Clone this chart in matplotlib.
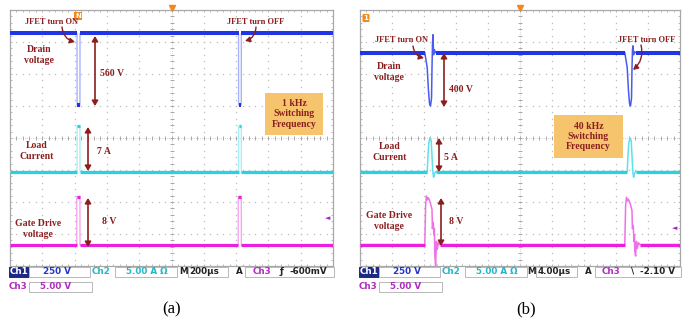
import numpy as np
import matplotlib
matplotlib.use('Agg')
import matplotlib.pyplot as plt
from matplotlib.patches import Rectangle, FancyArrowPatch

W, H = 694, 325

# ---------------- data ----------------
# Panel (a): 1 kHz switching, 200 us/div
a_time_per_div = 200.0
a_scales = {'ch1': 250.0, 'ch2': 5.0, 'ch3': 5.0}
a_offsets = {'ch1': 1.03, 'ch2': -1.05, 'ch3': -3.35}   # trace ground position (div)
a_drain_t = [0, 415, 415.5, 433, 433.5, 1415, 1415.5, 1432, 1432.5, 2000]
a_drain_v = [560, 560, 0, 0, 560, 560, 0, 0, 560, 560]
a_load_t = [0, 415, 415.5, 433, 433.5, 1415, 1415.5, 1432, 1432.5, 2000]
a_load_i = [0, 0, 7.1, 7.1, 0, 0, 7.1, 7.1, 0, 0]
a_gate_t = [0, 413, 413.5, 433, 433.5, 1413, 1413.5, 1432, 1432.5, 2000]
a_gate_v = [0, 0, 7.6, 7.6, 0, 0, 7.6, 7.6, 0, 0]

# Panel (b): 40 kHz switching, 4 us/div
b_time_per_div = 4.0
b_scales = {'ch1': 250.0, 'ch2': 5.0, 'ch3': 5.0}
b_offsets = {'ch1': 1.0, 'ch2': -1.05, 'ch3': -3.33}
b_drain_t = [0, 8.1, 8.4, 8.56, 8.69, 8.81, 8.94, 9.0, 9.06, 9.12, 9.2, 9.31, 9.44,
             33.1, 33.4, 33.56, 33.69, 33.81, 33.94, 34.0, 34.06, 34.12, 34.2, 34.31, 34.44, 40]
b_drain_v = [417, 417, 300, 120, 20, 0, 60, 300, 480, 557, 400, 440, 417,
             417, 300, 120, 20, 0, 60, 300, 440, 470, 400, 425, 417, 417]
b_load_t = [0, 8.4, 8.5, 8.6, 8.75, 8.9, 9.0, 9.1, 9.2, 9.3, 9.45,
            33.4, 33.5, 33.6, 33.75, 33.9, 34.0, 34.1, 34.2, 34.3, 34.45, 40]
b_load_i = [0, 0, 2.5, 4.5, 5.3, 4.8, 2.5, 0, -0.9, -0.3, 0,
            0, 2.5, 4.5, 5.3, 4.8, 2.5, 0, -0.9, -0.3, 0, 0]
b_gate_t = [0, 8.1, 8.2, 8.3, 8.45, 8.55, 8.8, 9.0, 9.05, 9.15, 9.25, 9.3, 9.35, 9.45, 9.55, 9.65, 9.8, 9.95,
            33.1, 33.2, 33.3, 33.45, 33.55, 33.8, 34.0, 34.05, 34.15, 34.25, 34.3, 34.35, 34.45, 34.55, 34.65, 34.8, 34.95, 40]
b_gate_v = [0, 0, 6.0, 7.6, 7.0, 7.3, 6.5, 5.5, 2.5, 3.5, 1.5, 2.5, -1.5, -3.3, 0.5, -0.8, 0.3, 0,
            0, 6.0, 7.4, 6.8, 7.1, 6.3, 5.3, 2.5, 3.0, 0.5, 1.5, -1.0, -1.8, 0.5, -0.6, 0.3, 0, 0]

# status bar texts
a_status = {'ch1': '250 V', 'ch2': '5.00 A Ω', 'M': '200µs', 'trig': '-600mV', 'slope': 'ƒ', 'ch3': '5.00 V'}
b_status = {'ch1': '250 V', 'ch2': '5.00 A Ω', 'M': '4.00µs', 'trig': '-2.10 V', 'slope': '\\', 'ch3': '5.00 V'}

# ---------------- styling ----------------
C_BLUE, C_BLUE_L, C_BLUE_M = '#1f35e6', '#a9b2ff', '#4a5cf0'
C_CYAN, C_CYAN_L, C_CYAN_M = '#27d3e0', '#a8f0f5', '#5fe0ea'
C_MAG, C_MAG_L, C_MAG_M = '#ec1fdf', '#f6a6f0', '#f070e8'
C_RED = '#8b1f1f'
C_ORANGE = '#f6c46c'
SERIF = 'Liberation Serif'
GRID = '#bdbdbd'

fig = plt.figure(figsize=(W / 100, H / 100), dpi=100)
fig.patch.set_facecolor('white')


def fx(px):
    return px / W


def fy(py):
    return 1 - py / H


def draw_trace(ax, t, v, tpd, scale, off, col, col_l, lw, lw_l):
    x = np.asarray(t, float) / tpd
    y = np.asarray(v, float) / scale + off
    ax.plot(x, y, color=col_l, lw=lw_l, zorder=3, solid_capstyle='butt')
    for i in range(len(x) - 1):
        if v[i] == v[i + 1]:
            ax.plot(x[i:i + 2], y[i:i + 2], color=col, lw=lw, zorder=4, solid_capstyle='butt')


def scope_axes(left_px, width_px, tpd, scales, offsets, dr, ld, gt, tcols, transition_lw):
    ax = fig.add_axes([fx(left_px), fy(266), width_px / W, 256 / H])
    ax.set_xlim(0, 10)
    ax.set_ylim(-4, 4)
    ax.set_xticks([])
    ax.set_yticks([])
    for s in ax.spines.values():
        s.set_color('#a8a8a8')
        s.set_linewidth(0.9)
    # dotted grid
    fine_x = np.arange(0, 10.01, 0.2)
    fine_y = np.arange(-4, 4.01, 0.2)
    for gx in range(1, 10):
        if gx == 5:
            continue
        ax.plot(np.full_like(fine_y, gx), fine_y, ls='none', marker='s', ms=0.9, mew=0, color=GRID, zorder=1)
    for gy in range(-3, 4):
        if gy == 0:
            continue
        ax.plot(fine_x, np.full_like(fine_x, gy), ls='none', marker='s', ms=0.9, mew=0, color=GRID, zorder=1)
    # centre crosshair
    ax.plot([0, 10], [0, 0], color='#c8c8c8', lw=0.6, ls=(0, (1, 1.5)), zorder=1)
    ax.plot([5, 5], [-4, 4], color='#c8c8c8', lw=0.6, ls=(0, (1, 1.5)), zorder=1)
    ax.plot(fine_x, np.zeros_like(fine_x), ls='none', marker='|', ms=3.2, mew=0.7, color='#a8a8a8', zorder=1)
    ax.plot(np.full_like(fine_y, 5), fine_y, ls='none', marker='_', ms=3.2, mew=0.7, color='#a8a8a8', zorder=1)
    # edge ticks
    ax.plot(fine_x, np.full_like(fine_x, 4), ls='none', marker='|', ms=2.5, mew=0.6, color='#b0b0b0', zorder=1)
    ax.plot(fine_x, np.full_like(fine_x, -4), ls='none', marker='|', ms=2.5, mew=0.6, color='#b0b0b0', zorder=1)
    ax.plot(np.zeros_like(fine_y), fine_y, ls='none', marker='_', ms=2.5, mew=0.6, color='#b0b0b0', zorder=1)
    ax.plot(np.full_like(fine_y, 10), fine_y, ls='none', marker='_', ms=2.5, mew=0.6, color='#b0b0b0', zorder=1)
    draw_trace(ax, dr[0], dr[1], tpd, scales['ch1'], offsets['ch1'], C_BLUE, tcols[0], 2.9, transition_lw)
    draw_trace(ax, ld[0], ld[1], tpd, scales['ch2'], offsets['ch2'], C_CYAN, tcols[1], 2.3, transition_lw)
    draw_trace(ax, gt[0], gt[1], tpd, scales['ch3'], offsets['ch3'], C_MAG, tcols[2], 2.3, transition_lw)
    # trigger marker top centre
    ax.plot([5], [4.05], marker='v', ms=5, color='#f08a1c', clip_on=False, zorder=6)
    return ax


axA = scope_axes(10, 323, a_time_per_div, a_scales, a_offsets,
                 (a_drain_t, a_drain_v), (a_load_t, a_load_i), (a_gate_t, a_gate_v),
                 (C_BLUE_L, C_CYAN_L, C_MAG_L), 1.0)
axB = scope_axes(360, 320, b_time_per_div, b_scales, b_offsets,
                 (b_drain_t, b_drain_v), (b_load_t, b_load_i), (b_gate_t, b_gate_v),
                 (C_BLUE_M, C_CYAN_M, C_MAG_M), 1.1)

# small markers
fig.text(fx(78), fy(16), 'N', color='white', fontsize=5, ha='center', va='center', weight='bold',
         bbox=dict(boxstyle='square,pad=0.1', fc='#f08a1c', ec='none'))
fig.text(fx(366), fy(18), '1', color='white', fontsize=5, ha='center', va='center', weight='bold',
         bbox=dict(boxstyle='round,pad=0.15', fc='#f08a1c', ec='none'))
fig.text(fx(328), fy(218), '◄', color='#a020c0', fontsize=5, ha='center', va='center')
fig.text(fx(675), fy(228), '◄', color='#a020c0', fontsize=5, ha='center', va='center')


def rtext(x, y, s, fs=7, ha='center'):
    fig.text(fx(x), fy(y), s, color=C_RED, fontsize=fs, ha=ha, va='center', family=SERIF,
             weight='bold', linespacing=1.15, zorder=11)


def darrow(x, y0, y1):
    fig.add_artist(FancyArrowPatch((fx(x), fy(y0)), (fx(x), fy(y1)),
                   transform=fig.transFigure, arrowstyle='<|-|>,head_length=3,head_width=1.8',
                   color=C_RED, lw=1.2, shrinkA=0, shrinkB=0, zorder=10))


def carrow(p0, p1, rad):
    fig.add_artist(FancyArrowPatch((fx(p0[0]), fy(p0[1])), (fx(p1[0]), fy(p1[1])),
                   transform=fig.transFigure, arrowstyle='-|>,head_length=3,head_width=1.6',
                   connectionstyle=f'arc3,rad={rad}', color=C_RED, lw=1.0, shrinkA=0, shrinkB=0, zorder=10))


def obox(x0, y0, x1, y1, s):
    fig.add_artist(Rectangle((fx(x0), fy(y1)), (x1 - x0) / W, (y1 - y0) / H, transform=fig.transFigure,
                             fc=C_ORANGE, ec='none', zorder=8))
    fig.text(fx((x0 + x1) / 2), fy((y0 + y1) / 2), s, color=C_RED, fontsize=7, ha='center', va='center',
             family=SERIF, weight='bold', linespacing=1.2, zorder=9)


# panel (a) annotations
rtext(52, 22, 'JFET turn ON', 6)
carrow((62, 27), (75, 42), 0.35)
rtext(256, 22, 'JFET turn OFF', 6)
carrow((256, 27), (245, 41), -0.35)
rtext(39, 55, 'Drain\nvoltage')
rtext(100, 73, '560 V', ha='left')
darrow(95, 36, 106)
rtext(37, 151, 'Load\nCurrent')
rtext(97, 151, '7 A', ha='left')
darrow(88, 127, 171)
rtext(38, 229, 'Gate Drive\nvoltage')
rtext(102, 221, '8 V', ha='left')
darrow(88, 198, 247)
obox(265, 93, 323, 135, '1 kHz\nSwitching\nFrequency')

# panel (b) annotations
rtext(402, 40, 'JFET turn ON', 6)
carrow((413, 46), (424, 58), 0.35)
rtext(647, 40, 'JFET turn OFF', 6)
carrow((641, 45), (633, 70), -0.3)
rtext(389, 72, 'Drain\nvoltage')
rtext(449, 90, '400 V', ha='left')
darrow(444, 53, 107)
rtext(390, 152, 'Load\nCurrent')
rtext(444, 158, '5 A', ha='left')
darrow(439, 138, 172)
rtext(389, 221, 'Gate Drive\nvoltage')
rtext(449, 221, '8 V', ha='left')
darrow(441, 198, 246)
obox(554, 115, 623, 158, '40 kHz\nSwitching\nFrequency')


# status bars
def box(x0, x1, y0, y1, fc='white', ec='#b8b8b8'):
    fig.add_artist(Rectangle((fx(x0), fy(y1)), (x1 - x0) / W, (y1 - y0) / H, transform=fig.transFigure,
                             fc=fc, ec=ec, lw=0.7, zorder=8))


def stext(x, y, s, col, ha='left', fs=6.3):
    fig.text(fx(x), fy(y), s, color=col, fontsize=fs, ha=ha, va='center', family='DejaVu Sans',
             weight='bold', zorder=9)


def status(o, st, mx, mbox, ax_, abox, ch3x, slx, trx):
    r1, r2 = 271.5, 286.5
    box(o + 9, o + 29, 266.5, 276.5, fc='#1c2a86', ec='#1c2a86')
    stext(o + 19, r1, 'Ch1', 'white', ha='center')
    box(o + 29, o + 90, 266.5, 277)
    stext(o + 43, r1, st['ch1'], '#2236c8')
    stext(o + 92, r1, 'Ch2', '#25b5c5')
    box(o + 115, o + 177, 266.5, 277)
    stext(o + 126, r1, st['ch2'], '#25b5c5')
    stext(o + mx, r1, 'M', '#222222')
    box(o + mbox[0], o + mbox[1], 266.5, 277)
    stext(o + mbox[0] + 1.5, r1, st['M'], '#222222')
    stext(o + ax_, r1, 'A', '#222222')
    box(o + abox[0], o + abox[1], 266.5, 277)
    stext(o + ch3x, r1, 'Ch3', '#b02cc0')
    stext(o + slx, r1, st['slope'], '#222222')
    stext(o + trx, r1, st['trig'], '#222222')
    stext(o + 9, r2, 'Ch3', '#b02cc0')
    box(o + 29, o + 92, 281.5, 292)
    stext(o + 40, r2, st['ch3'], '#b02cc0')


status(0, a_status, 179, (188, 228), 236, (245, 334), 253, 280, 289)
status(350, b_status, 177.5, (186, 227), 235, (245, 331), 252, 281, 290)

fig.text(fx(172), fy(309), '(a)', fontsize=12, ha='center', va='center', family=SERIF)
fig.text(fx(526), fy(309), '(b)', fontsize=12, ha='center', va='center', family=SERIF)

fig.savefig('out.png', dpi=100, facecolor='white')
